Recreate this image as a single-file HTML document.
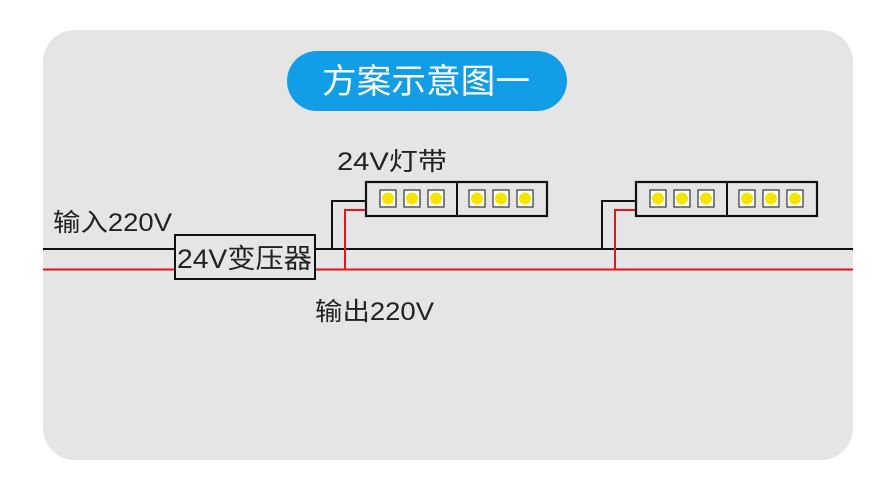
<!DOCTYPE html>
<html><head><meta charset="utf-8"><style>
html,body{margin:0;padding:0;background:#fff;}
svg{display:block;}
text{font-family:"Liberation Sans","Noto Sans CJK SC",sans-serif;}
</style></head><body>
<svg width="895" height="492" viewBox="0 0 895 492" xmlns="http://www.w3.org/2000/svg">
<rect x="43" y="30" width="810" height="430" rx="32" fill="#e5e5e5"/>
<rect x="287" y="51" width="280" height="60" rx="30" fill="#129ee6"/>
<text x="322" y="93" font-size="34" fill="#fff" textLength="208" lengthAdjust="spacingAndGlyphs">方案示意图一</text>

<line x1="43" y1="249" x2="853" y2="249" stroke="#111" stroke-width="2"/>
<line x1="43" y1="269.5" x2="853" y2="269.5" stroke="#e8141c" stroke-width="2"/>

<polyline points="332,249 332,201 367,201" fill="none" stroke="#111" stroke-width="2"/>
<polyline points="345,269 345,210 367,210" fill="none" stroke="#e8141c" stroke-width="2"/>
<polyline points="602,249 602,201 637,201" fill="none" stroke="#111" stroke-width="2"/>
<polyline points="615,269 615,210 637,210" fill="none" stroke="#e8141c" stroke-width="2"/>

<rect x="175" y="235" width="140" height="44" fill="#e5e5e5" stroke="#111" stroke-width="2"/>
<text x="177" y="268" font-size="27" fill="#222" textLength="135" lengthAdjust="spacingAndGlyphs">24V变压器</text>

<g id="strip">
<rect x="366" y="182" width="181" height="34" fill="#e5e5e5" stroke="#111" stroke-width="2.2"/>
<line x1="457" y1="182" x2="457" y2="216" stroke="#111" stroke-width="2"/>
<g fill="#fff" stroke="#333" stroke-width="1.2">
<rect x="380" y="190" width="16" height="17"/><rect x="404" y="190" width="16" height="17"/><rect x="428" y="190" width="16" height="17"/>
<rect x="469" y="190" width="16" height="17"/><rect x="493" y="190" width="16" height="17"/><rect x="517" y="190" width="16" height="17"/>
</g>
<g fill="#f5e600">
<circle cx="388" cy="198.5" r="6"/><circle cx="412" cy="198.5" r="6"/><circle cx="436" cy="198.5" r="6"/>
<circle cx="477" cy="198.5" r="6"/><circle cx="501" cy="198.5" r="6"/><circle cx="525" cy="198.5" r="6"/>
</g>
</g>
<use href="#strip" x="270" y="0"/>

<text x="337" y="170" font-size="25" fill="#222" textLength="110" lengthAdjust="spacingAndGlyphs">24V灯带</text>
<text x="53" y="231" font-size="25" fill="#222" textLength="119" lengthAdjust="spacingAndGlyphs">输入220V</text>
<text x="315" y="320" font-size="25" fill="#222" textLength="119" lengthAdjust="spacingAndGlyphs">输出220V</text>
</svg>
</body></html>
